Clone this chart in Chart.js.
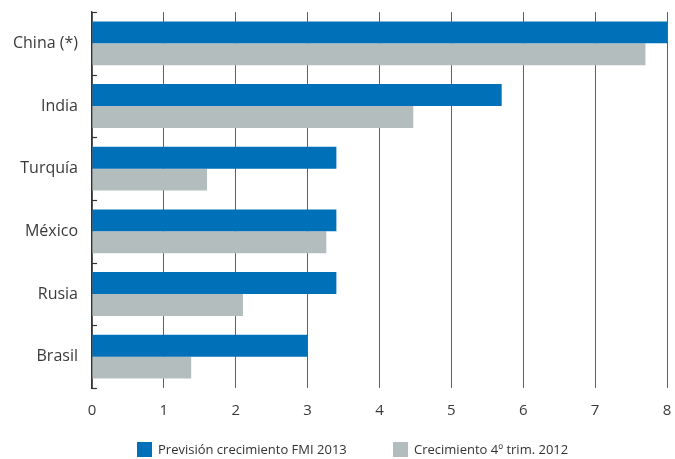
<!DOCTYPE html>
<html lang="es">
<head>
  <meta charset="UTF-8">
  <title>Crecimiento emergentes</title>
  <script src="https://cdn.jsdelivr.net/npm/chart.js"></script>
  <style>
    html, body { margin: 0; padding: 0; background: #fff; }
    #wrap { width: 675px; height: 459px; }
  </style>
</head>
<body>
  <div id="wrap"><canvas id="chart"></canvas></div>
  <script>
    // datos
    const paises = ["China (*)", "India", "Turquía", "México", "Rusia", "Brasil"];
    const prevision2013 = [8, 5.7, 3.4, 3.4, 3.4, 3.0];
    const crecimiento4T = [7.7, 4.47, 1.6, 3.26, 2.1, 1.38];
    const xTicks = [0, 1, 2, 3, 4, 5, 6, 7, 8];

    const azul = "#0070b8";
    const gris = "#b3bdbe";
    const fuente = "'Open Sans', 'Noto Sans', sans-serif";

    // small inward ticks on the left axis, at category borders
    const innerTicks = {
      id: "innerTicks",
      afterDraw(chart) {
        const y = chart.scales.y;
        const ctx = chart.ctx;
        const n = paises.length;
        const step = (y.bottom - y.top) / n;
        ctx.save();
        ctx.strokeStyle = "#333";
        ctx.lineWidth = 1.2;
        for (let i = 0; i <= n; i++) {
          const py = Math.round(y.top + i * step) + 0.5;
          ctx.beginPath();
          ctx.moveTo(y.right, py);
          ctx.lineTo(y.right + 5, py);
          ctx.stroke();
        }
        ctx.restore();
      }
    };

    // legend drawn by hand so the spacing matches the original
    const bottomLegend = {
      id: "bottomLegend",
      afterDraw(chart) {
        const ctx = chart.ctx;
        const starts = [137, 393];
        const top = 442;
        ctx.save();
        ctx.font = "13px " + fuente;
        ctx.textBaseline = "middle";
        chart.data.datasets.forEach((ds, i) => {
          ctx.fillStyle = ds.backgroundColor;
          ctx.fillRect(starts[i], top, 15, 15);
          ctx.fillStyle = "#333";
          ctx.fillText(ds.label, starts[i] + 21, top + 8);
        });
        ctx.restore();
      }
    };

    new Chart(document.getElementById("chart"), {
      type: "bar",
      data: {
        labels: paises,
        datasets: [{
          label: "Previsión crecimiento FMI 2013",
          data: prevision2013,
          backgroundColor: azul,
          categoryPercentage: 0.7,
          barPercentage: 1
        }, {
          label: "Crecimiento 4º trim. 2012",
          data: crecimiento4T,
          backgroundColor: gris,
          categoryPercentage: 0.7,
          barPercentage: 1
        }]
      },
      options: {
        indexAxis: "y",
        responsive: true,
        maintainAspectRatio: false,
        animation: false,
        layout: { padding: { left: 0, right: 8, top: 12, bottom: 25 } },
        scales: {
          x: {
            min: 0,
            max: 8,
            z: 1,
            afterBuildTicks: (s) => { s.ticks = xTicks.map(v => ({ value: v })); },
            afterFit: (s) => { s.paddingRight = 4; },
            border: { display: false },
            grid: { color: "rgba(0,0,0,0.62)", lineWidth: 1, drawTicks: false },
            ticks: { color: "#3a3a3a", padding: 14, font: { family: fuente, size: 15 } }
          },
          y: {
            afterFit: (s) => { s.width = 92; s.paddingTop = 0; s.paddingBottom = 0; },
            border: { display: true, color: "#333", width: 1.2 },
            grid: { display: false },
            ticks: { color: "#3a3a3a", padding: 6, font: { family: fuente, size: 16 } }
          }
        },
        plugins: {
          tooltip: { enabled: false },
          legend: { display: false }
        }
      },
      plugins: [innerTicks, bottomLegend]
    });
  </script>
</body>
</html>
